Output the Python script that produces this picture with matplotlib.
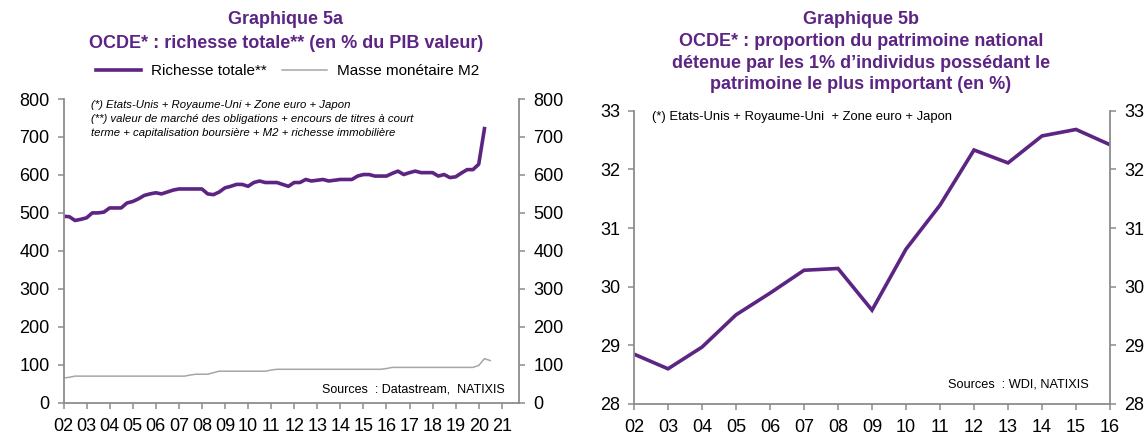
import numpy as np
import matplotlib.pyplot as plt
from matplotlib.lines import Line2D

plt.rcParams['font.family'] = ['Liberation Sans', 'DejaVu Sans']

# --- Graphique 5a : quarterly, 2002Q1 onwards ---
richesse = [491, 490, 480, 483, 487, 500, 500, 502, 513, 513, 513, 526, 530, 537, 546,
            550, 553, 550, 555, 560, 563, 563, 563, 563, 563, 550, 548, 555, 566, 570,
            575, 575, 570, 580, 584, 580, 580, 580, 575, 570, 580, 580, 588, 584, 586,
            588, 584, 586, 588, 588, 588, 597, 601, 601, 597, 597, 597, 604, 610, 601,
            606, 610, 606, 606, 606, 597, 601, 593, 595, 605, 614, 614, 628, 722]
m2 = [65, 67, 70, 70, 70, 70, 70, 70, 70, 70, 70, 70, 70, 70, 70,
      70, 70, 70, 70, 70, 70, 70, 73, 75, 75, 75, 79, 83, 83, 83,
      83, 83, 83, 83, 83, 83, 86, 88, 88, 88, 88, 88, 88, 88, 88,
      88, 88, 88, 88, 88, 88, 88, 88, 88, 88, 88, 90, 93, 93, 93,
      93, 93, 93, 93, 93, 93, 93, 93, 93, 93, 93, 93, 98, 116, 111]
t_rich = 2002 + np.arange(len(richesse)) / 4
t_m2 = 2002 + np.arange(len(m2)) / 4
years_a = list(range(2002, 2022))

# --- Graphique 5b : annual ---
years_b = list(range(2002, 2017))
top1 = [28.85, 28.60, 28.97, 29.52, 29.89, 30.28, 30.31, 29.60,
        30.64, 31.39, 32.33, 32.11, 32.57, 32.68, 32.42]

PURPLE = '#5C2483'
GREY_AX = '#8C8C8C'
GREY_M2 = '#A6A6A6'

W, H = 1147, 441
fig = plt.figure(figsize=(W / 100, H / 100), dpi=100)


def px_axes(x0, x1, ytop, ybot):
    return fig.add_axes([x0 / W, 1 - ybot / H, (x1 - x0) / W, (ybot - ytop) / H])


def style(ax):
    ax.spines['top'].set_visible(False)
    for s in ('left', 'right', 'bottom'):
        ax.spines[s].set_color(GREY_AX)
        ax.spines[s].set_linewidth(1.3)
    ax.tick_params(axis='y', which='both', direction='out', length=4, width=1.1,
                   color=GREY_AX, labelsize=13, pad=6, left=True, right=True,
                   labelleft=True, labelright=True)
    ax.tick_params(axis='x', direction='out', length=4, width=1.1, color=GREY_AX,
                   labelsize=13, pad=7)


# left chart
ax1 = px_axes(63.5, 519.3, 99, 402.7)
ax1.plot(t_rich, richesse, color=PURPLE, lw=2.6, solid_joinstyle='round')
ax1.plot(t_m2, m2, color=GREY_M2, lw=1.1)
ax1.set_xlim(2002, 2021.76)
ax1.set_ylim(0, 800)
ax1.set_yticks(range(0, 801, 100))
ax1.set_xticks(years_a)
ax1.set_xticklabels([f"{y % 100:02d}" for y in years_a])
style(ax1)
ax1.text(90.7 / W, 1 - 105 / H, "(*) Etats-Unis + Royaume-Uni + Zone euro + Japon",
         transform=fig.transFigure, fontsize=8.2, style='italic', va='center')
ax1.text(90.7 / W, 1 - 119 / H, "(**) valeur de marché des obligations + encours de titres à court",
         transform=fig.transFigure, fontsize=8.2, style='italic', va='center')
ax1.text(90.7 / W, 1 - 132.7 / H, "terme + capitalisation boursière + M2 + richesse immobilière",
         transform=fig.transFigure, fontsize=8.2, style='italic', va='center')
ax1.text(505 / W, 1 - 389 / H, "Sources  : Datastream,  NATIXIS",
         transform=fig.transFigure, fontsize=9, ha='right', va='center')

fig.text(286 / W, 1 - 20 / H, "Graphique 5a", ha='center', va='center',
         fontsize=13, fontweight='bold', color=PURPLE)
fig.text(286 / W, 1 - 43 / H, "OCDE* : richesse totale** (en % du PIB valeur)",
         ha='center', va='center', fontsize=13, fontweight='bold', color=PURPLE)

handles = [Line2D([], [], color=PURPLE, lw=2.6), Line2D([], [], color=GREY_M2, lw=1.1)]
fig.legend(handles, ["Richesse totale**", "Masse monétaire M2"], loc='center',
           bbox_to_anchor=(288 / W, 1 - 71 / H), ncol=2, frameon=False,
           fontsize=11, handlelength=2.9, handletextpad=0.7, columnspacing=1.0)

# right chart
ax2 = px_axes(634, 1110, 110.7, 404)
ax2.plot(years_b, top1, color=PURPLE, lw=2.6, solid_joinstyle='miter')
ax2.set_xlim(2002, 2016)
ax2.set_ylim(28, 33)
ax2.set_yticks(range(28, 34))
ax2.set_xticks(years_b)
ax2.set_xticklabels([f"{y % 100:02d}" for y in years_b])
style(ax2)
ax2.text(651.7 / W, 1 - 116.7 / H, "(*) Etats-Unis + Royaume-Uni  + Zone euro + Japon",
         transform=fig.transFigure, fontsize=9.4, va='center')
ax2.text(1089 / W, 1 - 384.3 / H, "Sources  : WDI, NATIXIS",
         transform=fig.transFigure, fontsize=9.2, ha='right', va='center')

title_b = ["Graphique 5b",
           "OCDE* : proportion du patrimoine national",
           "détenue par les 1% d’individus possédant le",
           "patrimoine le plus important (en %)"]
for i, line in enumerate(title_b):
    fig.text(861 / W, 1 - (20 + 21.5 * i) / H, line, ha='center', va='center',
             fontsize=13, fontweight='bold', color=PURPLE)

fig.savefig("out.png", dpi=100)
